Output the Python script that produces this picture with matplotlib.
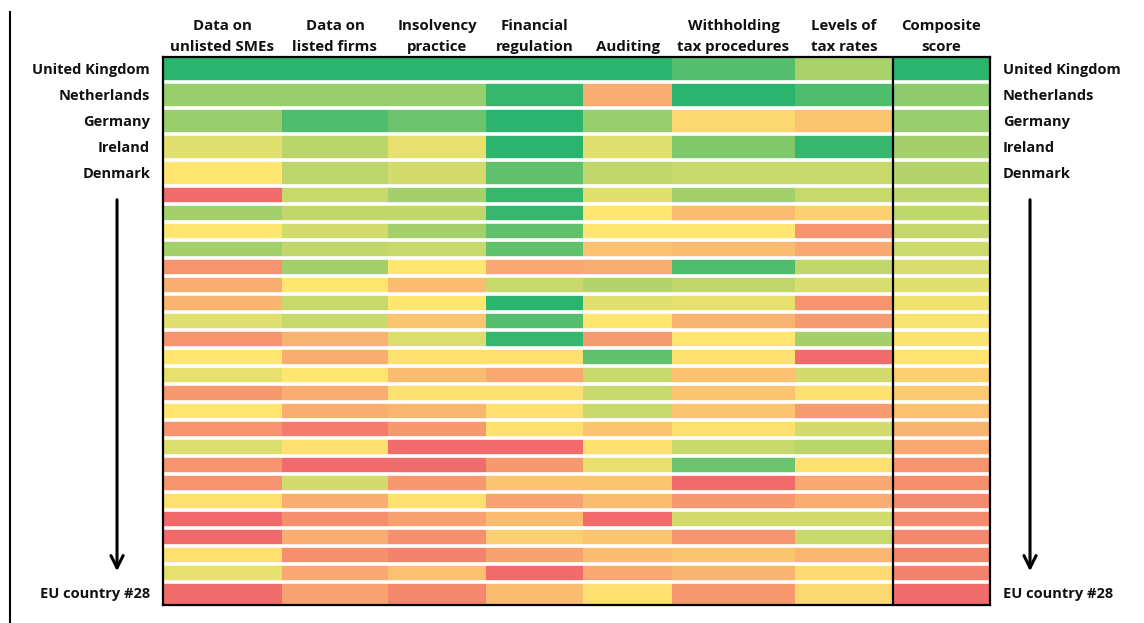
import numpy as np
import matplotlib.pyplot as plt
from matplotlib.colors import LinearSegmentedColormap
from matplotlib.lines import Line2D

plt.rcParams['font.family'] = ['Open Sans', 'DejaVu Sans']
plt.rcParams['font.weight'] = 'bold'

# column headers
headers = ['Data on\nunlisted SMEs', 'Data on\nlisted firms', 'Insolvency\npractice',
           'Financial\nregulation', 'Auditing', 'Withholding\ntax procedures',
           'Levels of\ntax rates', 'Composite\nscore']

# labelled rows (index -> name)
row_names = {0: 'United Kingdom', 1: 'Netherlands', 2: 'Germany', 3: 'Ireland',
             4: 'Denmark', 27: 'EU country #28'}

# scores per dimension, 0 = worst (red), 10 = best (green), rows ranked by composite
unlisted_smes = [10, 8, 8, 6, 5, 0.3, 7.8, 5, 7.8, 2, 3, 3.2, 6, 2, 5, 5.8, 2.2, 5, 2, 6.2,
                 2, 2, 4.8, 0.2, 0.2, 4.8, 5.8, 0.4]
listed_firms = [10, 8, 9.3, 7.3, 7.2, 6.8, 7, 6.5, 7, 7.8, 5, 6.8, 6.8, 3.2, 3, 5, 3, 3, 1, 4.8,
                0.3, 6.5, 3, 1.8, 3, 1.8, 2.8, 2.6]
insolvency = [10, 8, 8.8, 5.8, 6.5, 7.8, 7, 7.8, 6.8, 5, 3.5, 5, 3.8, 6.2, 4.8, 3.5, 4.8, 3.3,
              2.2, 0.3, 0.4, 2.2, 4.8, 2.5, 1.8, 1.3, 3.7, 1.5]
financial_reg = [10, 9.8, 10, 10, 9, 9.8, 9.8, 9, 9, 2.8, 6.8, 10, 9.2, 9.8, 4.8, 2.8, 4.8, 4.8,
                 4.8, 0.3, 2.2, 3.8, 2.6, 3.5, 4.2, 2.5, 0.3, 3.5]
auditing = [10, 3, 8, 6, 7, 6, 5, 5, 3.7, 3, 7.5, 6, 5, 2.3, 9, 6.8, 6.8, 6.8, 3.8, 4.8, 5.8,
            3.8, 3.5, 0.3, 3.8, 3.5, 2.8, 4.8]
withholding = [9.2, 10, 4.5, 8.4, 6.8, 7.8, 3.5, 5, 3.5, 9.3, 7, 5.8, 3.2, 5, 4.8, 3.7, 3.8, 3.8,
               4.8, 6.8, 8.8, 0.3, 2.2, 6.5, 2, 3.8, 3.2, 2.2]
tax_rates = [7.7, 9.3, 3.8, 9.8, 6.8, 6.8, 4.2, 2, 2.8, 7, 6.3, 2, 2.3, 7.8, 0.3, 6.5, 4.8, 2.3,
             6.5, 7.3, 4.8, 2.8, 3, 6.5, 6.8, 3.3, 4.6, 4.5]
composite = [10, 8.2, 8, 7.8, 7.5, 7.2, 7.1, 6.9, 6.7, 6.3, 6, 5.5, 5.3, 5.2, 4.9, 4.2, 4, 3.7,
             3.2, 2.8, 2, 1.8, 1.6, 1.6, 1.5, 1.4, 1.3, 0.4]

scores = np.column_stack([unlisted_smes, listed_firms, insolvency, financial_reg, auditing,
                          withholding, tax_rates, composite])

# red - yellow - green scale
cmap = LinearSegmentedColormap.from_list(
    'ryg', ['#f0646a', '#f7a070', '#ffe670', '#b4d46a', '#2ab46e'])

# cell sizes (top five rows and last row are taller)
col_w = [119, 106, 98, 97, 89, 123, 98, 97]
row_h = [26] * 5 + [18] * 22 + [22]
x_edges = np.concatenate([[0], np.cumsum(col_w)])
y_edges = np.concatenate([[0], np.cumsum(row_h)])
y_mid = (y_edges[:-1] + y_edges[1:]) / 2
x_mid = (x_edges[:-1] + x_edges[1:]) / 2

fig = plt.figure(figsize=(11.44, 6.23), dpi=100)
ax = fig.add_axes([163 / 1144, 1 - 605 / 623, 827 / 1144, 548 / 623])

ax.pcolormesh(x_edges, y_edges, scores, cmap=cmap, vmin=0, vmax=10)
ax.set_xlim(0, x_edges[-1])
ax.set_ylim(y_edges[-1], 0)

# white gaps between rows
for y in y_edges[1:-1]:
    ax.axhline(y - 1.5, color='white', lw=2.6)

# composite column separator and frame
ax.axvline(x_edges[-2], color='black', lw=1.6)
for s in ax.spines.values():
    s.set_linewidth(1.6)
    s.set_color('black')
ax.set_xticks([])
ax.set_yticks([])

# column headers
for xm, h in zip(x_mid, headers):
    ax.text(xm, -3, h, ha='center', va='bottom', fontsize=10.8, fontweight='bold',
            linespacing=1.6, color='#111111')

# country names on both sides
ytrans = ax.get_yaxis_transform()
for i, name in row_names.items():
    ax.text(-0.0157, y_mid[i], name, transform=ytrans, ha='right', va='center',
            fontsize=10.5, fontweight='bold', color='#111111')
    ax.text(1.0157, y_mid[i], name, transform=ytrans, ha='left', va='center',
            fontsize=10.5, fontweight='bold', color='#111111')

# ranking arrows
for xa in [-0.0556, 1.0484]:
    ax.annotate('', xy=(xa, 517), xytext=(xa, 140), xycoords=ytrans, textcoords=ytrans,
                arrowprops=dict(arrowstyle='->', lw=2.2, color='black', mutation_scale=22),
                annotation_clip=False)

# vertical rule on the far left
fig.add_artist(Line2D([10 / 1144, 10 / 1144], [0, 1 - 12 / 623], color='black', lw=1.5))

plt.savefig('out.png', dpi=100)
